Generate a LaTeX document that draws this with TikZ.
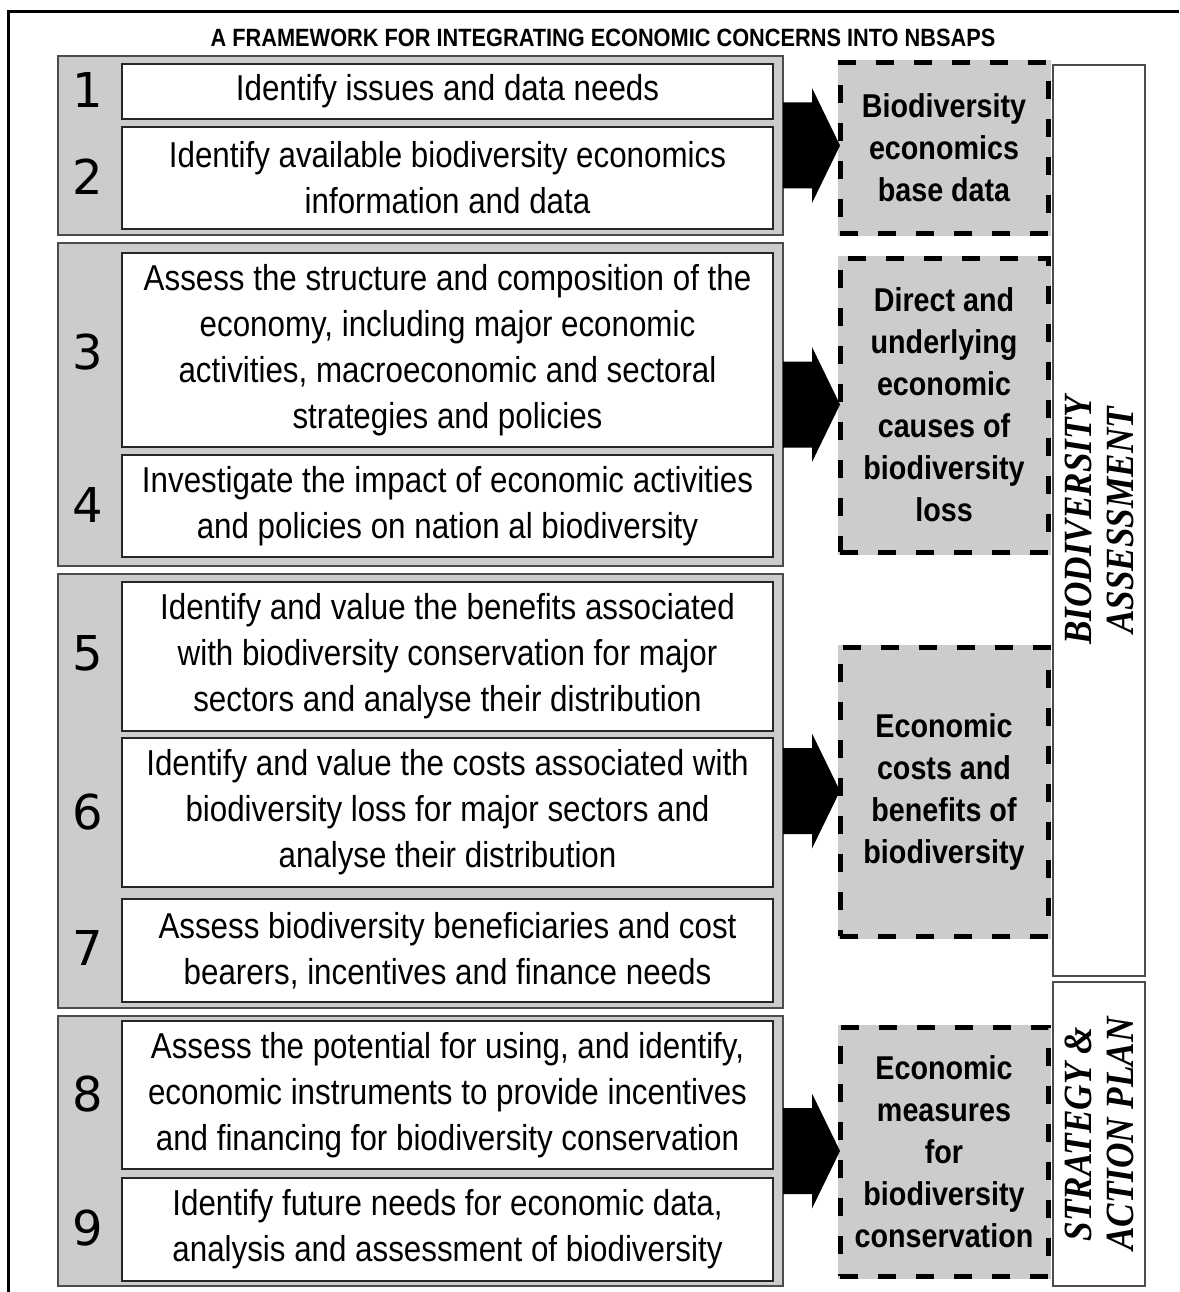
\documentclass[tikz,border=0pt]{standalone}
\usepackage{fontspec}
\setmainfont{Liberation Sans}[FakeStretch=0.87]
\newfontfamily\numfont{DejaVu Sans}
\newfontfamily\vfont{Liberation Serif}[FakeStretch=0.88]
\usetikzlibrary{calc}
\tikzset{
  grp/.style={draw=black!70, line width=1.5pt, fill=black!20, inner sep=0pt, outer sep=0pt, minimum width=725pt},
  stepbox/.style={draw=black!85, line width=1.6pt, fill=white, inner sep=0pt, outer sep=0pt, minimum width=651pt, align=center, font=\fontsize{36}{46}\selectfont},
  num/.style={font=\numfont\fontsize{48}{48}\selectfont, inner sep=0pt},
  outbox/.style={draw=black, line width=5pt, dash pattern=on 18pt off 20pt, fill=black!20,
    preaction={draw=black!20, line width=5pt, solid},
    inner sep=0pt, outer sep=0pt, minimum width=208pt, align=center, font=\bfseries\fontsize{33}{42}\selectfont},
  colbox/.style={draw=black!70, line width=2pt, fill=white, inner sep=0pt, outer sep=0pt, minimum width=92pt},
  vlabel/.style={rotate=90, align=center, font=\vfont\bfseries\itshape\fontsize{40}{42}\selectfont, inner sep=0pt},
  arrowfill/.style={fill=black},
  frame/.style={draw=black, line width=3pt}
}
\newcommand\blockarr[2]{%
  \fill[arrowfill] ($(#1.east)+(0,-43)$) -- ($(#1.east)+(29,-43)$) -- ($(#1.east)+(29,-57.5)$)
    -- (#1.east -| #2.west) -- ($(#1.east)+(29,57.5)$) -- ($(#1.east)+(29,43)$)
    -- ($(#1.east)+(0,43)$) -- cycle;}
\begin{document}
\begin{tikzpicture}[x=1pt,y=-1pt]
\useasboundingbox (0,0) rectangle (1179,1292);
% frame
\coordinate (fbl) at (8,1292);
\coordinate (ftl) at (8,12);
\coordinate (ftr) at (1179,12);
\draw[frame] (fbl) -- (ftl) -- (ftr);
% title
\node[font=\bfseries\fontsize{25}{30}\selectfont] (title) at (603,38) {A FRAMEWORK FOR INTEGRATING ECONOMIC CONCERNS INTO NBSAPS};
% groups
\node[grp, minimum height=179pt] (gA) at (420.5,145.5) {};
\node[grp, minimum height=323pt] (gB) at (420.5,404.5) {};
\node[grp, minimum height=434pt] (gC) at (420.5,791) {};
\node[grp, minimum height=270pt] (gD) at (420.5,1151) {};
% step boxes
\node[stepbox, minimum height=55pt] (s1) at (447.5,91.5) {Identify issues and data needs};
\node[stepbox, minimum height=102pt] (s2) at (447.5,178) {Identify available biodiversity economics\\information and data};
\node[stepbox, minimum height=194pt] (s3) at (447.5,350) {Assess the structure and composition of the\\economy, including major economic\\activities, macroeconomic and sectoral\\strategies and policies};
\node[stepbox, minimum height=102pt] (s4) at (447.5,506) {Investigate the impact of economic activities\\and policies on nation al biodiversity};
\node[stepbox, minimum height=149pt] (s5) at (447.5,656.5) {Identify and value the benefits associated\\with biodiversity conservation for major\\sectors and analyse their distribution};
\node[stepbox, minimum height=149pt] (s6) at (447.5,812.5) {Identify and value the costs associated with\\biodiversity loss for major sectors and\\analyse their distribution};
\node[stepbox, minimum height=103pt] (s7) at (447.5,950.5) {Assess biodiversity beneficiaries and cost\\bearers, incentives and finance needs};
\node[stepbox, minimum height=148pt] (s8) at (447.5,1095) {Assess the potential for using, and identify,\\economic instruments to provide incentives\\and financing for biodiversity conservation};
\node[stepbox, minimum height=103pt] (s9) at (447.5,1229.5) {Identify future needs for economic data,\\analysis and assessment of biodiversity};
% numbers
\node[num] (n1) at (88,90) {1};
\node[num] (n2) at (88,177) {2};
\node[num] (n3) at (88,352) {3};
\node[num] (n4) at (88,505) {4};
\node[num] (n5) at (88,653) {5};
\node[num] (n6) at (88,812) {6};
\node[num] (n7) at (88,948) {7};
\node[num] (n8) at (88,1094) {8};
\node[num] (n9) at (88,1228) {9};
% output boxes
\node[outbox, minimum height=170pt] (dA) at (944,148) {Biodiversity\\economics\\base data};
\node[outbox, minimum height=294pt] (dB) at (944,405) {Direct and\\underlying\\economic\\causes of\\biodiversity\\loss};
\node[outbox, minimum height=289pt] (dC) at (944,791.5) {Economic\\costs and\\benefits of\\biodiversity};
\node[outbox, minimum height=249pt] (dD) at (944,1151.5) {Economic\\measures\\for\\biodiversity\\conservation};
% arrows
\blockarr{gA}{dA}
\blockarr{gB}{dB}
\blockarr{gC}{dC}
\blockarr{gD}{dD}
% right column
\node[colbox, minimum height=911pt] (cA) at (1099,520.5) {};
\node[colbox, minimum height=304pt] (cS) at (1099,1134) {};
\node[vlabel] (lA) at (cA) {BIODIVERSITY\\ASSESSMENT};
\node[vlabel] (lS) at (cS) {STRATEGY \&\\ACTION PLAN};
\end{tikzpicture}
\end{document}
